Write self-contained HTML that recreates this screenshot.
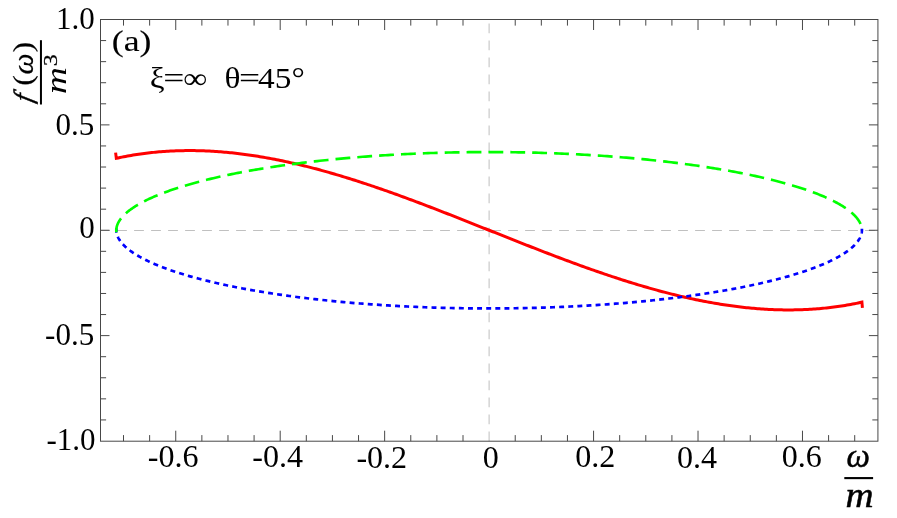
<!DOCTYPE html><html><head><meta charset="utf-8"><style>html,body{margin:0;padding:0;background:#fff;overflow:hidden}svg{display:block;will-change:transform}</style></head><body><svg width="897" height="518" viewBox="0 0 897 518">
<rect width="897" height="518" fill="#fff"/>
<path d="M489.11,441.20 V19.50" stroke="#c4c4c4" stroke-width="1.1" stroke-dasharray="9.8 7.2" fill="none"/>
<path d="M100.10,230.45 H877.92" stroke="#c0c0c0" stroke-width="1.05" stroke-dasharray="9.8 7.2" fill="none"/>
<path d="M115.61,152.61 L116.31,158.31 L118.17,157.91 L120.03,157.52 L121.90,157.14 L123.76,156.77 L125.63,156.41 L127.49,156.07 L129.35,155.73 L131.22,155.41 L133.08,155.10 L134.95,154.80 L136.81,154.51 L138.67,154.23 L140.54,153.96 L142.40,153.70 L144.27,153.45 L146.13,153.22 L147.99,152.99 L149.86,152.78 L151.72,152.57 L153.59,152.38 L155.45,152.19 L157.31,152.02 L159.18,151.86 L161.04,151.70 L162.91,151.56 L164.77,151.43 L166.64,151.30 L168.50,151.19 L170.36,151.09 L172.23,150.99 L174.09,150.91 L175.96,150.84 L177.82,150.77 L179.68,150.72 L181.55,150.67 L183.41,150.64 L185.28,150.61 L187.14,150.59 L189.00,150.59 L190.87,150.59 L192.73,150.60 L194.60,150.62 L196.46,150.65 L198.32,150.69 L200.19,150.74 L202.05,150.79 L203.92,150.86 L205.78,150.93 L207.64,151.02 L209.51,151.11 L211.37,151.21 L213.24,151.32 L215.10,151.43 L216.96,151.56 L218.83,151.69 L220.69,151.83 L222.56,151.99 L224.42,152.14 L226.28,152.31 L228.15,152.49 L230.01,152.67 L231.88,152.86 L233.74,153.06 L235.60,153.27 L237.47,153.48 L239.33,153.71 L241.20,153.94 L243.06,154.17 L244.92,154.42 L246.79,154.67 L248.65,154.93 L250.52,155.20 L252.38,155.48 L254.24,155.76 L256.11,156.05 L257.97,156.35 L259.84,156.65 L261.70,156.96 L263.56,157.28 L265.43,157.61 L267.29,157.94 L269.16,158.28 L271.02,158.63 L272.88,158.98 L274.75,159.34 L276.61,159.70 L278.48,160.08 L280.34,160.46 L282.20,160.84 L284.07,161.23 L285.93,161.63 L287.80,162.04 L289.66,162.45 L291.52,162.87 L293.39,163.29 L295.25,163.72 L297.12,164.15 L298.98,164.59 L300.84,165.04 L302.71,165.49 L304.57,165.95 L306.44,166.42 L308.30,166.89 L310.16,167.36 L312.03,167.84 L313.89,168.33 L315.76,168.82 L317.62,169.32 L319.48,169.82 L321.35,170.33 L323.21,170.84 L325.08,171.36 L326.94,171.88 L328.80,172.41 L330.67,172.94 L332.53,173.48 L334.40,174.02 L336.26,174.57 L338.12,175.12 L339.99,175.68 L341.85,176.24 L343.72,176.81 L345.58,177.38 L347.44,177.95 L349.31,178.53 L351.17,179.12 L353.04,179.71 L354.90,180.30 L356.76,180.89 L358.63,181.50 L360.49,182.10 L362.36,182.71 L364.22,183.32 L366.08,183.94 L367.95,184.56 L369.81,185.18 L371.68,185.81 L373.54,186.44 L375.40,187.07 L377.27,187.71 L379.13,188.35 L381.00,189.00 L382.86,189.65 L384.73,190.30 L386.59,190.95 L388.45,191.61 L390.32,192.27 L392.18,192.94 L394.05,193.60 L395.91,194.27 L397.77,194.95 L399.64,195.62 L401.50,196.30 L403.37,196.98 L405.23,197.67 L407.09,198.35 L408.96,199.04 L410.82,199.73 L412.69,200.43 L414.55,201.12 L416.41,201.82 L418.28,202.52 L420.14,203.23 L422.01,203.93 L423.87,204.64 L425.73,205.35 L427.60,206.06 L429.46,206.77 L431.33,207.49 L433.19,208.20 L435.05,208.92 L436.92,209.64 L438.78,210.36 L440.65,211.09 L442.51,211.81 L444.37,212.54 L446.24,213.27 L448.10,213.99 L449.97,214.73 L451.83,215.46 L453.69,216.19 L455.56,216.92 L457.42,217.66 L459.29,218.39 L461.15,219.13 L463.01,219.87 L464.88,220.61 L466.74,221.34 L468.61,222.08 L470.47,222.82 L472.33,223.57 L474.20,224.31 L476.06,225.05 L477.93,225.79 L479.79,226.53 L481.65,227.28 L483.52,228.02 L485.38,228.76 L487.25,229.51 L489.11,230.25 L490.97,230.99 L492.84,231.74 L494.70,232.48 L496.57,233.22 L498.43,233.97 L500.29,234.71 L502.16,235.45 L504.02,236.19 L505.89,236.93 L507.75,237.68 L509.61,238.42 L511.48,239.16 L513.34,239.89 L515.21,240.63 L517.07,241.37 L518.93,242.11 L520.80,242.84 L522.66,243.58 L524.53,244.31 L526.39,245.04 L528.25,245.77 L530.12,246.51 L531.98,247.23 L533.85,247.96 L535.71,248.69 L537.57,249.41 L539.44,250.14 L541.30,250.86 L543.17,251.58 L545.03,252.30 L546.89,253.01 L548.76,253.73 L550.62,254.44 L552.49,255.15 L554.35,255.86 L556.21,256.57 L558.08,257.27 L559.94,257.98 L561.81,258.68 L563.67,259.38 L565.53,260.07 L567.40,260.77 L569.26,261.46 L571.13,262.15 L572.99,262.83 L574.85,263.52 L576.72,264.20 L578.58,264.88 L580.45,265.55 L582.31,266.23 L584.17,266.90 L586.04,267.56 L587.90,268.23 L589.77,268.89 L591.63,269.55 L593.49,270.20 L595.36,270.85 L597.22,271.50 L599.09,272.15 L600.95,272.79 L602.82,273.43 L604.68,274.06 L606.54,274.69 L608.41,275.32 L610.27,275.94 L612.14,276.56 L614.00,277.18 L615.86,277.79 L617.73,278.40 L619.59,279.00 L621.46,279.61 L623.32,280.20 L625.18,280.79 L627.05,281.38 L628.91,281.97 L630.78,282.55 L632.64,283.12 L634.50,283.69 L636.37,284.26 L638.23,284.82 L640.10,285.38 L641.96,285.93 L643.82,286.48 L645.69,287.02 L647.55,287.56 L649.42,288.09 L651.28,288.62 L653.14,289.14 L655.01,289.66 L656.87,290.17 L658.74,290.68 L660.60,291.18 L662.46,291.68 L664.33,292.17 L666.19,292.66 L668.06,293.14 L669.92,293.61 L671.78,294.08 L673.65,294.55 L675.51,295.01 L677.38,295.46 L679.24,295.91 L681.10,296.35 L682.97,296.78 L684.83,297.21 L686.70,297.63 L688.56,298.05 L690.42,298.46 L692.29,298.87 L694.15,299.27 L696.02,299.66 L697.88,300.04 L699.74,300.42 L701.61,300.80 L703.47,301.16 L705.34,301.52 L707.20,301.87 L709.06,302.22 L710.93,302.56 L712.79,302.89 L714.66,303.22 L716.52,303.54 L718.38,303.85 L720.25,304.15 L722.11,304.45 L723.98,304.74 L725.84,305.02 L727.70,305.30 L729.57,305.57 L731.43,305.83 L733.30,306.08 L735.16,306.33 L737.02,306.56 L738.89,306.79 L740.75,307.02 L742.62,307.23 L744.48,307.44 L746.34,307.64 L748.21,307.83 L750.07,308.01 L751.94,308.19 L753.80,308.36 L755.66,308.51 L757.53,308.67 L759.39,308.81 L761.26,308.94 L763.12,309.07 L764.98,309.18 L766.85,309.29 L768.71,309.39 L770.58,309.48 L772.44,309.57 L774.30,309.64 L776.17,309.71 L778.03,309.76 L779.90,309.81 L781.76,309.85 L783.62,309.88 L785.49,309.90 L787.35,309.91 L789.22,309.91 L791.08,309.91 L792.94,309.89 L794.81,309.86 L796.67,309.83 L798.54,309.78 L800.40,309.73 L802.26,309.66 L804.13,309.59 L805.99,309.51 L807.86,309.41 L809.72,309.31 L811.58,309.20 L813.45,309.07 L815.31,308.94 L817.18,308.80 L819.04,308.64 L820.91,308.48 L822.77,308.31 L824.63,308.12 L826.50,307.93 L828.36,307.72 L830.23,307.51 L832.09,307.28 L833.95,307.05 L835.82,306.80 L837.68,306.54 L839.55,306.27 L841.41,305.99 L843.27,305.70 L845.14,305.40 L847.00,305.09 L848.87,304.77 L850.73,304.43 L852.59,304.09 L854.46,303.73 L856.32,303.36 L858.19,302.98 L860.05,302.59 L861.91,302.19 L862.41,307.79" stroke="#f00" stroke-width="3.0" fill="none" stroke-linejoin="miter"/>
<path d="M116.31,228.35 L116.31,230.25 L116.32,230.79 L116.35,231.35 L116.41,231.92 L116.49,232.49 L116.59,233.07 L116.72,233.65 L116.87,234.23 L117.04,234.82 L117.24,235.40 L117.46,235.99 L117.70,236.58 L117.96,237.17 L118.25,237.76 L118.56,238.35 L118.89,238.94 L119.25,239.53 L119.62,240.13 L120.03,240.72 L120.45,241.31 L120.90,241.91 L121.37,242.50 L121.86,243.09 L122.37,243.68 L122.91,244.28 L123.47,244.87 L124.05,245.46 L124.66,246.05 L125.28,246.64 L125.93,247.23 L126.61,247.83 L127.30,248.41 L128.02,249.00 L128.76,249.59 L129.52,250.18 L130.30,250.77 L131.11,251.35 L131.94,251.94 L132.79,252.52 L133.66,253.10 L134.55,253.68 L135.47,254.27 L136.41,254.85 L137.37,255.42 L138.35,256.00 L139.35,256.58 L140.37,257.15 L141.42,257.72 L142.49,258.29 L143.57,258.86 L144.68,259.43 L145.82,260.00 L146.97,260.57 L148.14,261.13 L149.34,261.69 L150.55,262.25 L151.79,262.81 L153.04,263.37 L154.32,263.92 L155.62,264.47 L156.94,265.03 L158.28,265.57 L159.64,266.12 L161.02,266.67 L162.42,267.21 L163.84,267.75 L165.28,268.29 L166.74,268.82 L168.22,269.36 L169.72,269.89 L171.24,270.42 L172.78,270.95 L174.34,271.47 L175.92,271.99 L177.52,272.51 L179.14,273.03 L180.77,273.54 L182.43,274.06 L184.10,274.57 L185.79,275.07 L187.51,275.58 L189.24,276.08 L190.98,276.58 L192.75,277.07 L194.54,277.57 L196.34,278.06 L198.16,278.54 L200.00,279.03 L201.86,279.51 L203.74,279.99 L205.63,280.46 L207.54,280.93 L209.47,281.40 L211.41,281.87 L213.37,282.33 L215.35,282.79 L217.35,283.25 L219.36,283.70 L221.39,284.15 L223.44,284.60 L225.50,285.04 L227.58,285.48 L229.67,285.92 L231.78,286.35 L233.91,286.78 L236.05,287.21 L238.21,287.63 L240.38,288.05 L242.57,288.46 L244.77,288.87 L246.99,289.28 L249.23,289.69 L251.48,290.09 L253.74,290.49 L256.02,290.88 L258.31,291.27 L260.62,291.65 L262.94,292.04 L265.27,292.41 L267.62,292.79 L269.98,293.16 L272.36,293.52 L274.75,293.89 L277.15,294.25 L279.56,294.60 L281.99,294.95 L284.43,295.30 L286.89,295.64 L289.35,295.98 L291.83,296.31 L294.32,296.64 L296.82,296.97 L299.34,297.29 L301.86,297.61 L304.40,297.92 L306.95,298.23 L309.51,298.53 L312.08,298.83 L314.66,299.13 L317.26,299.42 L319.86,299.71 L322.47,299.99 L325.10,300.27 L327.73,300.54 L330.38,300.81 L333.03,301.08 L335.70,301.34 L338.37,301.60 L341.05,301.85 L343.74,302.10 L346.44,302.34 L349.15,302.58 L351.87,302.81 L354.60,303.04 L357.33,303.26 L360.08,303.48 L362.83,303.70 L365.59,303.91 L368.35,304.12 L371.13,304.32 L373.91,304.51 L376.70,304.71 L379.49,304.89 L382.29,305.08 L385.10,305.25 L387.92,305.43 L390.74,305.60 L393.56,305.76 L396.40,305.92 L399.24,306.07 L402.08,306.22 L404.93,306.37 L407.79,306.51 L410.65,306.64 L413.51,306.77 L416.38,306.90 L419.25,307.02 L422.13,307.13 L425.01,307.24 L427.90,307.35 L430.79,307.45 L433.68,307.55 L436.58,307.64 L439.48,307.72 L442.39,307.81 L445.29,307.88 L448.20,307.95 L451.11,308.02 L454.03,308.08 L456.94,308.14 L459.86,308.19 L462.78,308.24 L465.70,308.28 L468.62,308.32 L471.55,308.35 L474.47,308.38 L477.40,308.40 L480.33,308.42 L483.25,308.43 L486.18,308.44 L489.11,308.44 L492.04,308.44 L494.97,308.43 L497.89,308.42 L500.82,308.40 L503.75,308.38 L506.67,308.35 L509.60,308.32 L512.52,308.28 L515.44,308.24 L518.36,308.19 L521.28,308.14 L524.19,308.08 L527.11,308.02 L530.02,307.95 L532.93,307.88 L535.83,307.81 L538.74,307.72 L541.64,307.64 L544.54,307.55 L547.43,307.45 L550.32,307.35 L553.21,307.24 L556.09,307.13 L558.97,307.02 L561.84,306.90 L564.71,306.77 L567.57,306.64 L570.43,306.51 L573.29,306.37 L576.14,306.22 L578.98,306.07 L581.82,305.92 L584.66,305.76 L587.48,305.60 L590.30,305.43 L593.12,305.25 L595.93,305.08 L598.73,304.89 L601.52,304.71 L604.31,304.51 L607.09,304.32 L609.87,304.12 L612.63,303.91 L615.39,303.70 L618.14,303.48 L620.89,303.26 L623.62,303.04 L626.35,302.81 L629.07,302.58 L631.78,302.34 L634.48,302.10 L637.17,301.85 L639.85,301.60 L642.52,301.34 L645.19,301.08 L647.84,300.81 L650.49,300.54 L653.12,300.27 L655.75,299.99 L658.36,299.71 L660.96,299.42 L663.56,299.13 L666.14,298.83 L668.71,298.53 L671.27,298.23 L673.82,297.92 L676.36,297.61 L678.88,297.29 L681.40,296.97 L683.90,296.64 L686.39,296.31 L688.87,295.98 L691.33,295.64 L693.79,295.30 L696.23,294.95 L698.66,294.60 L701.07,294.25 L703.47,293.89 L705.86,293.52 L708.24,293.16 L710.60,292.79 L712.95,292.41 L715.28,292.04 L717.60,291.65 L719.91,291.27 L722.20,290.88 L724.48,290.49 L726.74,290.09 L728.99,289.69 L731.23,289.28 L733.45,288.87 L735.65,288.46 L737.84,288.05 L740.01,287.63 L742.17,287.21 L744.31,286.78 L746.44,286.35 L748.55,285.92 L750.64,285.48 L752.72,285.04 L754.78,284.60 L756.83,284.15 L758.86,283.70 L760.87,283.25 L762.87,282.79 L764.85,282.33 L766.81,281.87 L768.75,281.40 L770.68,280.93 L772.59,280.46 L774.48,279.99 L776.36,279.51 L778.22,279.03 L780.06,278.54 L781.88,278.06 L783.68,277.57 L785.47,277.07 L787.24,276.58 L788.98,276.08 L790.71,275.58 L792.43,275.07 L794.12,274.57 L795.79,274.06 L797.45,273.54 L799.08,273.03 L800.70,272.51 L802.30,271.99 L803.88,271.47 L805.44,270.95 L806.98,270.42 L808.50,269.89 L810.00,269.36 L811.48,268.82 L812.94,268.29 L814.38,267.75 L815.80,267.21 L817.20,266.67 L818.58,266.12 L819.94,265.57 L821.28,265.03 L822.60,264.47 L823.90,263.92 L825.18,263.37 L826.43,262.81 L827.67,262.25 L828.88,261.69 L830.08,261.13 L831.25,260.57 L832.40,260.00 L833.54,259.43 L834.65,258.86 L835.73,258.29 L836.80,257.72 L837.85,257.15 L838.87,256.58 L839.87,256.00 L840.85,255.42 L841.81,254.85 L842.75,254.27 L843.67,253.68 L844.56,253.10 L845.43,252.52 L846.28,251.94 L847.11,251.35 L847.92,250.77 L848.70,250.18 L849.46,249.59 L850.20,249.00 L850.92,248.41 L851.61,247.83 L852.29,247.23 L852.94,246.64 L853.56,246.05 L854.17,245.46 L854.75,244.87 L855.31,244.28 L855.85,243.68 L856.36,243.09 L856.85,242.50 L857.32,241.91 L857.77,241.31 L858.19,240.72 L858.60,240.13 L858.97,239.53 L859.33,238.94 L859.66,238.35 L859.97,237.76 L860.26,237.17 L860.52,236.58 L860.76,235.99 L860.98,235.40 L861.18,234.82 L861.35,234.23 L861.50,233.65 L861.63,233.07 L861.73,232.49 L861.81,231.92 L861.87,231.35 L861.90,230.79 L861.91,230.25 L861.91,228.35" stroke="#00f" stroke-width="2.7" fill="none" stroke-dasharray="4.95 4.17" stroke-dashoffset="0.55"/>
<path d="M116.31,232.15 L116.31,230.25 L116.32,229.71 L116.35,229.15 L116.41,228.58 L116.49,228.01 L116.59,227.43 L116.72,226.85 L116.87,226.27 L117.04,225.68 L117.24,225.10 L117.46,224.51 L117.70,223.92 L117.96,223.33 L118.25,222.74 L118.56,222.15 L118.89,221.56 L119.25,220.97 L119.62,220.37 L120.03,219.78 L120.45,219.19 L120.90,218.59 L121.37,218.00 L121.86,217.41 L122.37,216.82 L122.91,216.22 L123.47,215.63 L124.05,215.04 L124.66,214.45 L125.28,213.86 L125.93,213.27 L126.61,212.67 L127.30,212.09 L128.02,211.50 L128.76,210.91 L129.52,210.32 L130.30,209.73 L131.11,209.15 L131.94,208.56 L132.79,207.98 L133.66,207.40 L134.55,206.82 L135.47,206.23 L136.41,205.65 L137.37,205.08 L138.35,204.50 L139.35,203.92 L140.37,203.35 L141.42,202.78 L142.49,202.21 L143.57,201.64 L144.68,201.07 L145.82,200.50 L146.97,199.93 L148.14,199.37 L149.34,198.81 L150.55,198.25 L151.79,197.69 L153.04,197.13 L154.32,196.58 L155.62,196.03 L156.94,195.47 L158.28,194.93 L159.64,194.38 L161.02,193.83 L162.42,193.29 L163.84,192.75 L165.28,192.21 L166.74,191.68 L168.22,191.14 L169.72,190.61 L171.24,190.08 L172.78,189.55 L174.34,189.03 L175.92,188.51 L177.52,187.99 L179.14,187.47 L180.77,186.96 L182.43,186.44 L184.10,185.93 L185.79,185.43 L187.51,184.92 L189.24,184.42 L190.98,183.92 L192.75,183.43 L194.54,182.93 L196.34,182.44 L198.16,181.96 L200.00,181.47 L201.86,180.99 L203.74,180.51 L205.63,180.04 L207.54,179.57 L209.47,179.10 L211.41,178.63 L213.37,178.17 L215.35,177.71 L217.35,177.25 L219.36,176.80 L221.39,176.35 L223.44,175.90 L225.50,175.46 L227.58,175.02 L229.67,174.58 L231.78,174.15 L233.91,173.72 L236.05,173.29 L238.21,172.87 L240.38,172.45 L242.57,172.04 L244.77,171.63 L246.99,171.22 L249.23,170.81 L251.48,170.41 L253.74,170.01 L256.02,169.62 L258.31,169.23 L260.62,168.85 L262.94,168.46 L265.27,168.09 L267.62,167.71 L269.98,167.34 L272.36,166.98 L274.75,166.61 L277.15,166.25 L279.56,165.90 L281.99,165.55 L284.43,165.20 L286.89,164.86 L289.35,164.52 L291.83,164.19 L294.32,163.86 L296.82,163.53 L299.34,163.21 L301.86,162.89 L304.40,162.58 L306.95,162.27 L309.51,161.97 L312.08,161.67 L314.66,161.37 L317.26,161.08 L319.86,160.79 L322.47,160.51 L325.10,160.23 L327.73,159.96 L330.38,159.69 L333.03,159.42 L335.70,159.16 L338.37,158.90 L341.05,158.65 L343.74,158.40 L346.44,158.16 L349.15,157.92 L351.87,157.69 L354.60,157.46 L357.33,157.24 L360.08,157.02 L362.83,156.80 L365.59,156.59 L368.35,156.38 L371.13,156.18 L373.91,155.99 L376.70,155.79 L379.49,155.61 L382.29,155.42 L385.10,155.25 L387.92,155.07 L390.74,154.90 L393.56,154.74 L396.40,154.58 L399.24,154.43 L402.08,154.28 L404.93,154.13 L407.79,153.99 L410.65,153.86 L413.51,153.73 L416.38,153.60 L419.25,153.48 L422.13,153.37 L425.01,153.26 L427.90,153.15 L430.79,153.05 L433.68,152.95 L436.58,152.86 L439.48,152.78 L442.39,152.69 L445.29,152.62 L448.20,152.55 L451.11,152.48 L454.03,152.42 L456.94,152.36 L459.86,152.31 L462.78,152.26 L465.70,152.22 L468.62,152.18 L471.55,152.15 L474.47,152.12 L477.40,152.10 L480.33,152.08 L483.25,152.07 L486.18,152.06 L489.11,152.06 L492.04,152.06 L494.97,152.07 L497.89,152.08 L500.82,152.10 L503.75,152.12 L506.67,152.15 L509.60,152.18 L512.52,152.22 L515.44,152.26 L518.36,152.31 L521.28,152.36 L524.19,152.42 L527.11,152.48 L530.02,152.55 L532.93,152.62 L535.83,152.69 L538.74,152.78 L541.64,152.86 L544.54,152.95 L547.43,153.05 L550.32,153.15 L553.21,153.26 L556.09,153.37 L558.97,153.48 L561.84,153.60 L564.71,153.73 L567.57,153.86 L570.43,153.99 L573.29,154.13 L576.14,154.28 L578.98,154.43 L581.82,154.58 L584.66,154.74 L587.48,154.90 L590.30,155.07 L593.12,155.25 L595.93,155.42 L598.73,155.61 L601.52,155.79 L604.31,155.99 L607.09,156.18 L609.87,156.38 L612.63,156.59 L615.39,156.80 L618.14,157.02 L620.89,157.24 L623.62,157.46 L626.35,157.69 L629.07,157.92 L631.78,158.16 L634.48,158.40 L637.17,158.65 L639.85,158.90 L642.52,159.16 L645.19,159.42 L647.84,159.69 L650.49,159.96 L653.12,160.23 L655.75,160.51 L658.36,160.79 L660.96,161.08 L663.56,161.37 L666.14,161.67 L668.71,161.97 L671.27,162.27 L673.82,162.58 L676.36,162.89 L678.88,163.21 L681.40,163.53 L683.90,163.86 L686.39,164.19 L688.87,164.52 L691.33,164.86 L693.79,165.20 L696.23,165.55 L698.66,165.90 L701.07,166.25 L703.47,166.61 L705.86,166.98 L708.24,167.34 L710.60,167.71 L712.95,168.09 L715.28,168.46 L717.60,168.85 L719.91,169.23 L722.20,169.62 L724.48,170.01 L726.74,170.41 L728.99,170.81 L731.23,171.22 L733.45,171.63 L735.65,172.04 L737.84,172.45 L740.01,172.87 L742.17,173.29 L744.31,173.72 L746.44,174.15 L748.55,174.58 L750.64,175.02 L752.72,175.46 L754.78,175.90 L756.83,176.35 L758.86,176.80 L760.87,177.25 L762.87,177.71 L764.85,178.17 L766.81,178.63 L768.75,179.10 L770.68,179.57 L772.59,180.04 L774.48,180.51 L776.36,180.99 L778.22,181.47 L780.06,181.96 L781.88,182.44 L783.68,182.93 L785.47,183.43 L787.24,183.92 L788.98,184.42 L790.71,184.92 L792.43,185.43 L794.12,185.93 L795.79,186.44 L797.45,186.96 L799.08,187.47 L800.70,187.99 L802.30,188.51 L803.88,189.03 L805.44,189.55 L806.98,190.08 L808.50,190.61 L810.00,191.14 L811.48,191.68 L812.94,192.21 L814.38,192.75 L815.80,193.29 L817.20,193.83 L818.58,194.38 L819.94,194.93 L821.28,195.47 L822.60,196.03 L823.90,196.58 L825.18,197.13 L826.43,197.69 L827.67,198.25 L828.88,198.81 L830.08,199.37 L831.25,199.93 L832.40,200.50 L833.54,201.07 L834.65,201.64 L835.73,202.21 L836.80,202.78 L837.85,203.35 L838.87,203.92 L839.87,204.50 L840.85,205.08 L841.81,205.65 L842.75,206.23 L843.67,206.82 L844.56,207.40 L845.43,207.98 L846.28,208.56 L847.11,209.15 L847.92,209.73 L848.70,210.32 L849.46,210.91 L850.20,211.50 L850.92,212.09 L851.61,212.67 L852.29,213.27 L852.94,213.86 L853.56,214.45 L854.17,215.04 L854.75,215.63 L855.31,216.22 L855.85,216.82 L856.36,217.41 L856.85,218.00 L857.32,218.59 L857.77,219.19 L858.19,219.78 L858.60,220.37 L858.97,220.97 L859.33,221.56 L859.66,222.15 L859.97,222.74 L860.26,223.33 L860.52,223.92 L860.76,224.51 L860.98,225.10 L861.18,225.68 L861.35,226.27 L861.50,226.85 L861.63,227.43 L861.73,228.01 L861.81,228.58 L861.87,229.15 L861.90,229.71 L861.91,230.25" stroke="#0f0" stroke-width="2.65" fill="none" stroke-dasharray="14.85 7.03"/>
<path d="M123.51,441.20 v-6.10 M123.51,19.50 v6.10 M149.63,441.20 v-6.10 M149.63,19.50 v6.10 M175.74,441.20 v-10.50 M175.74,19.50 v10.50 M201.86,441.20 v-6.10 M201.86,19.50 v6.10 M227.97,441.20 v-6.10 M227.97,19.50 v6.10 M254.08,441.20 v-6.10 M254.08,19.50 v6.10 M280.20,441.20 v-10.50 M280.20,19.50 v10.50 M306.31,441.20 v-6.10 M306.31,19.50 v6.10 M332.43,441.20 v-6.10 M332.43,19.50 v6.10 M358.54,441.20 v-6.10 M358.54,19.50 v6.10 M384.65,441.20 v-10.50 M384.65,19.50 v10.50 M410.77,441.20 v-6.10 M410.77,19.50 v6.10 M436.88,441.20 v-6.10 M436.88,19.50 v6.10 M463.00,441.20 v-6.10 M463.00,19.50 v6.10 M515.22,441.20 v-6.10 M515.22,19.50 v6.10 M541.34,441.20 v-6.10 M541.34,19.50 v6.10 M567.45,441.20 v-6.10 M567.45,19.50 v6.10 M593.57,441.20 v-10.50 M593.57,19.50 v10.50 M619.68,441.20 v-6.10 M619.68,19.50 v6.10 M645.79,441.20 v-6.10 M645.79,19.50 v6.10 M671.91,441.20 v-6.10 M671.91,19.50 v6.10 M698.02,441.20 v-10.50 M698.02,19.50 v10.50 M724.14,441.20 v-6.10 M724.14,19.50 v6.10 M750.25,441.20 v-6.10 M750.25,19.50 v6.10 M776.36,441.20 v-6.10 M776.36,19.50 v6.10 M802.48,441.20 v-10.50 M802.48,19.50 v10.50 M828.59,441.20 v-6.10 M828.59,19.50 v6.10 M854.71,441.20 v-6.10 M854.71,19.50 v6.10 M100.50,419.93 h5.60 M877.92,419.93 h-5.60 M100.50,398.85 h5.60 M877.92,398.85 h-5.60 M100.50,377.77 h5.60 M877.92,377.77 h-5.60 M100.50,356.70 h5.60 M877.92,356.70 h-5.60 M100.50,335.62 h9.00 M877.92,335.62 h-9.00 M100.50,314.55 h5.60 M877.92,314.55 h-5.60 M100.50,293.48 h5.60 M877.92,293.48 h-5.60 M100.50,272.40 h5.60 M877.92,272.40 h-5.60 M100.50,251.32 h5.60 M877.92,251.32 h-5.60 M100.50,230.25 h9.00 M877.92,230.25 h-9.00 M100.50,209.18 h5.60 M877.92,209.18 h-5.60 M100.50,188.10 h5.60 M877.92,188.10 h-5.60 M100.50,167.02 h5.60 M877.92,167.02 h-5.60 M100.50,145.95 h5.60 M877.92,145.95 h-5.60 M100.50,124.88 h9.00 M877.92,124.88 h-9.00 M100.50,103.80 h5.60 M877.92,103.80 h-5.60 M100.50,82.72 h5.60 M877.92,82.72 h-5.60 M100.50,61.65 h5.60 M877.92,61.65 h-5.60 M100.50,40.57 h5.60 M877.92,40.57 h-5.60" stroke="#484848" stroke-width="1" fill="none"/>
<rect x="100.50" y="19.50" width="777.42" height="421.70" fill="none" stroke="#484848" stroke-width="1"/>
<text x="94.70" y="28.65" text-anchor="end" style="font-family:'Liberation Serif',serif;font-size:31px;fill:#000">1.0</text>
<text x="94.30" y="134.67" text-anchor="end" style="font-family:'Liberation Serif',serif;font-size:31px;fill:#000">0.5</text>
<text x="94.80" y="237.85" text-anchor="end" style="font-family:'Liberation Serif',serif;font-size:31px;fill:#000">0</text>
<text x="94.20" y="345.03" text-anchor="end" style="font-family:'Liberation Serif',serif;font-size:31px;fill:#000">-0.5</text>
<text x="95.60" y="449.50" text-anchor="end" style="font-family:'Liberation Serif',serif;font-size:31px;fill:#000">-1.0</text>
<text transform="translate(173.24,466.50) scale(1.015,1)" text-anchor="middle" style="font-family:'Liberation Serif',serif;font-size:31.6px;fill:#000">-0.6</text>
<text transform="translate(277.70,467.00) scale(1.015,1)" text-anchor="middle" style="font-family:'Liberation Serif',serif;font-size:31.6px;fill:#000">-0.4</text>
<text transform="translate(381.75,467.85) scale(1.015,1)" text-anchor="middle" style="font-family:'Liberation Serif',serif;font-size:31.6px;fill:#000">-0.2</text>
<text transform="translate(490.81,467.75) scale(1.015,1)" text-anchor="middle" style="font-family:'Liberation Serif',serif;font-size:31.6px;fill:#000">0</text>
<text transform="translate(595.17,466.90) scale(1.015,1)" text-anchor="middle" style="font-family:'Liberation Serif',serif;font-size:31.6px;fill:#000">0.2</text>
<text transform="translate(696.92,467.75) scale(1.015,1)" text-anchor="middle" style="font-family:'Liberation Serif',serif;font-size:31.6px;fill:#000">0.4</text>
<text transform="translate(801.73,466.85) scale(1.015,1)" text-anchor="middle" style="font-family:'Liberation Serif',serif;font-size:31.6px;fill:#000">0.6</text>
<text transform="translate(111.8,51.4) scale(1.19,1)" style="font-family:'Liberation Serif',serif;font-size:30px;fill:#000;stroke:#000;stroke-width:0.12px">(a)</text>
<text transform="translate(157.30,87.7) scale(1.150,1)" text-anchor="middle" style="font-family:'Liberation Serif',serif;font-size:29px;fill:#000">ξ</text>
<text transform="translate(173.80,87.7) scale(1.290,1)" text-anchor="middle" style="font-family:'Liberation Serif',serif;font-size:29px;fill:#000">=</text>
<text transform="translate(195.10,87.7) scale(1.150,1)" text-anchor="middle" style="font-family:'Liberation Serif',serif;font-size:29px;fill:#000">∞</text>
<text transform="translate(232.60,87.7) scale(1.150,1)" text-anchor="middle" style="font-family:'Liberation Serif',serif;font-size:29px;fill:#000">θ</text>
<text transform="translate(249.50,87.7) scale(1.290,1)" text-anchor="middle" style="font-family:'Liberation Serif',serif;font-size:29px;fill:#000">=</text>
<text transform="translate(281.40,87.7) scale(1.150,1)" text-anchor="middle" style="font-family:'Liberation Serif',serif;font-size:29px;fill:#000">45°</text>
<text transform="translate(846.47,467.31) scale(0.3317,0.3375)" style="font-family:'Liberation Serif',serif;font-size:100px;font-style:italic;fill:#000;stroke:#000;stroke-width:1.49px">ω</text>
<rect x="844.3" y="477.05" width="28.8" height="2.1" fill="#000"/>
<text transform="translate(845.39,506.85) scale(0.3891,0.3596)" style="font-family:'Liberation Serif',serif;font-size:100px;font-style:italic;fill:#000;stroke:#000;stroke-width:1.34px">m</text>
<g transform="rotate(-90)">
<text transform="translate(-103.21,31.75) skewX(-12.75) scale(0.2638)" style="font-family:'Liberation Serif',serif;font-size:100px;font-style:italic;fill:#000;stroke:#000;stroke-width:1.90px">f</text>
<text transform="translate(-85.78,31.99) scale(0.3176,0.2711)" style="font-family:'Liberation Serif',serif;font-size:100px;font-style:normal;fill:#000;stroke:#000;stroke-width:0.51px">(</text>
<text transform="translate(-74.42,32.85) scale(0.2984,0.3042)" style="font-family:'Liberation Serif',serif;font-size:100px;font-style:italic;fill:#000;stroke:#000;stroke-width:0.83px">ω</text>
<text transform="translate(-52.38,31.97) scale(0.3184,0.2722)" style="font-family:'Liberation Serif',serif;font-size:100px;font-style:normal;fill:#000;stroke:#000;stroke-width:0.51px">)</text>
<text transform="translate(-93.94,65.65) scale(0.3720,0.3043)" style="font-family:'Liberation Serif',serif;font-size:100px;font-style:italic;fill:#000;stroke:#000;stroke-width:0.00px">m</text>
<text transform="translate(-66.19,57.26) scale(0.2400,0.1903)" style="font-family:'Liberation Serif',serif;font-size:100px;font-style:normal;fill:#000;stroke:#000;stroke-width:1.40px">3</text>
</g>
<rect x="39.95" y="40.2" width="2.0" height="64.3" fill="#000"/>
</svg></body></html>
